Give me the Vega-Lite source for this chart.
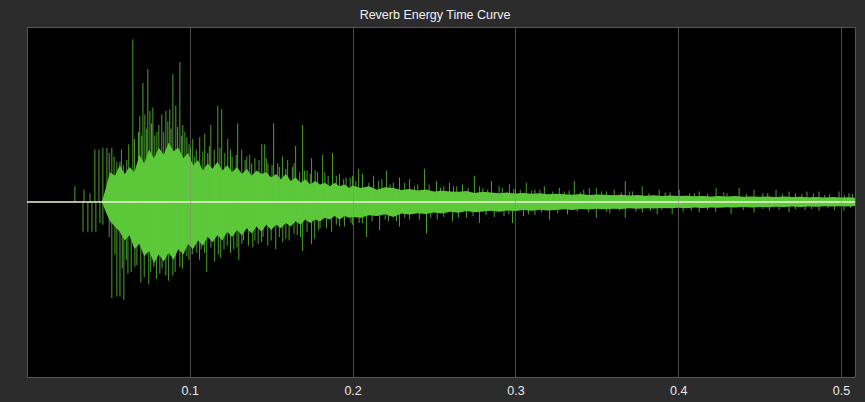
{
  "$schema": "https://vega.github.io/schema/vega-lite/v6.json",
  "autosize": {"type": "none"},
  "width": 828,
  "height": 350,
  "padding": {"left": 27, "top": 27, "right": 10, "bottom": 25},
  "background": "#2c2c2c",
  "title": {"text": "Reverb Energy Time Curve", "color": "#f0f0f0", "fontSize": 12.5, "fontWeight": "normal", "font": "Liberation Sans Narrow, Liberation Sans, sans-serif", "anchor": "middle", "offset": 6, "dx": -6},
  "config": {
    "view": {"fill": "#000000", "stroke": "#555555", "strokeWidth": 1}
  },
  "datasets": {
    "body": [
      {"t": 0.046, "hi": 0.0, "lo": 0.0}, {"t": 0.049, "hi": 0.10, "lo": -0.07}, {"t": 0.051, "hi": 0.17, "lo": -0.11}, {"t": 0.054, "hi": 0.15, "lo": -0.14},
      {"t": 0.057, "hi": 0.21, "lo": -0.17}, {"t": 0.060, "hi": 0.16, "lo": -0.22}, {"t": 0.063, "hi": 0.20, "lo": -0.19},
      {"t": 0.066, "hi": 0.17, "lo": -0.27}, {"t": 0.069, "hi": 0.27, "lo": -0.24}, {"t": 0.072, "hi": 0.22, "lo": -0.31},
      {"t": 0.075, "hi": 0.30, "lo": -0.28}, {"t": 0.078, "hi": 0.25, "lo": -0.35}, {"t": 0.081, "hi": 0.31, "lo": -0.30},
      {"t": 0.084, "hi": 0.27, "lo": -0.34}, {"t": 0.087, "hi": 0.34, "lo": -0.29}, {"t": 0.090, "hi": 0.29, "lo": -0.33},
      {"t": 0.093, "hi": 0.31, "lo": -0.27}, {"t": 0.096, "hi": 0.25, "lo": -0.30}, {"t": 0.099, "hi": 0.28, "lo": -0.24},
      {"t": 0.102, "hi": 0.21, "lo": -0.27}, {"t": 0.105, "hi": 0.24, "lo": -0.22}, {"t": 0.108, "hi": 0.18, "lo": -0.25},
      {"t": 0.111, "hi": 0.22, "lo": -0.20}, {"t": 0.114, "hi": 0.19, "lo": -0.23}, {"t": 0.117, "hi": 0.23, "lo": -0.19},
      {"t": 0.120, "hi": 0.18, "lo": -0.22}, {"t": 0.123, "hi": 0.21, "lo": -0.17}, {"t": 0.126, "hi": 0.17, "lo": -0.20},
      {"t": 0.129, "hi": 0.20, "lo": -0.16}, {"t": 0.132, "hi": 0.16, "lo": -0.19}, {"t": 0.135, "hi": 0.19, "lo": -0.15},
      {"t": 0.138, "hi": 0.15, "lo": -0.18}, {"t": 0.141, "hi": 0.18, "lo": -0.14}, {"t": 0.144, "hi": 0.16, "lo": -0.17},
      {"t": 0.147, "hi": 0.17, "lo": -0.13}, {"t": 0.150, "hi": 0.14, "lo": -0.16}, {"t": 0.153, "hi": 0.16, "lo": -0.13},
      {"t": 0.156, "hi": 0.13, "lo": -0.15}, {"t": 0.159, "hi": 0.16, "lo": -0.12}, {"t": 0.162, "hi": 0.12, "lo": -0.14},
      {"t": 0.165, "hi": 0.14, "lo": -0.11}, {"t": 0.168, "hi": 0.11, "lo": -0.13}, {"t": 0.171, "hi": 0.13, "lo": -0.10},
      {"t": 0.174, "hi": 0.10, "lo": -0.12}, {"t": 0.177, "hi": 0.12, "lo": -0.10}, {"t": 0.180, "hi": 0.10, "lo": -0.11},
      {"t": 0.183, "hi": 0.11, "lo": -0.09}, {"t": 0.186, "hi": 0.09, "lo": -0.10}, {"t": 0.189, "hi": 0.11, "lo": -0.08},
      {"t": 0.192, "hi": 0.09, "lo": -0.10}, {"t": 0.195, "hi": 0.10, "lo": -0.08}, {"t": 0.198, "hi": 0.08, "lo": -0.09},
      {"t": 0.200, "hi": 0.095, "lo": -0.085}, {"t": 0.205, "hi": 0.080, "lo": -0.090}, {"t": 0.210, "hi": 0.090, "lo": -0.075},
      {"t": 0.215, "hi": 0.070, "lo": -0.080}, {"t": 0.220, "hi": 0.085, "lo": -0.070}, {"t": 0.225, "hi": 0.080, "lo": -0.085},
      {"t": 0.230, "hi": 0.068, "lo": -0.066}, {"t": 0.235, "hi": 0.075, "lo": -0.072}, {"t": 0.240, "hi": 0.066, "lo": -0.064},
      {"t": 0.245, "hi": 0.072, "lo": -0.068}, {"t": 0.250, "hi": 0.060, "lo": -0.060}, {"t": 0.255, "hi": 0.064, "lo": -0.066},
      {"t": 0.260, "hi": 0.060, "lo": -0.055}, {"t": 0.265, "hi": 0.058, "lo": -0.061}, {"t": 0.270, "hi": 0.063, "lo": -0.052},
      {"t": 0.275, "hi": 0.052, "lo": -0.058}, {"t": 0.280, "hi": 0.058, "lo": -0.054}, {"t": 0.285, "hi": 0.055, "lo": -0.050},
      {"t": 0.290, "hi": 0.050, "lo": -0.055}, {"t": 0.295, "hi": 0.054, "lo": -0.048}, {"t": 0.300, "hi": 0.048, "lo": -0.052},
      {"t": 0.305, "hi": 0.052, "lo": -0.046}, {"t": 0.310, "hi": 0.047, "lo": -0.050}, {"t": 0.315, "hi": 0.050, "lo": -0.044},
      {"t": 0.320, "hi": 0.044, "lo": -0.048}, {"t": 0.325, "hi": 0.047, "lo": -0.045}, {"t": 0.330, "hi": 0.045, "lo": -0.042},
      {"t": 0.335, "hi": 0.042, "lo": -0.046}, {"t": 0.340, "hi": 0.046, "lo": -0.040}, {"t": 0.345, "hi": 0.040, "lo": -0.043},
      {"t": 0.350, "hi": 0.043, "lo": -0.039}, {"t": 0.355, "hi": 0.041, "lo": -0.042}, {"t": 0.360, "hi": 0.038, "lo": -0.038},
      {"t": 0.365, "hi": 0.042, "lo": -0.040}, {"t": 0.370, "hi": 0.037, "lo": -0.036}, {"t": 0.375, "hi": 0.040, "lo": -0.039},
      {"t": 0.380, "hi": 0.036, "lo": -0.035}, {"t": 0.385, "hi": 0.039, "lo": -0.037}, {"t": 0.390, "hi": 0.035, "lo": -0.034},
      {"t": 0.395, "hi": 0.037, "lo": -0.036}, {"t": 0.400, "hi": 0.034, "lo": -0.033}, {"t": 0.405, "hi": 0.036, "lo": -0.035},
      {"t": 0.410, "hi": 0.033, "lo": -0.032}, {"t": 0.415, "hi": 0.035, "lo": -0.034}, {"t": 0.420, "hi": 0.032, "lo": -0.031},
      {"t": 0.425, "hi": 0.034, "lo": -0.033}, {"t": 0.430, "hi": 0.031, "lo": -0.030}, {"t": 0.435, "hi": 0.034, "lo": -0.032},
      {"t": 0.440, "hi": 0.030, "lo": -0.029}, {"t": 0.445, "hi": 0.032, "lo": -0.031}, {"t": 0.450, "hi": 0.030, "lo": -0.028},
      {"t": 0.455, "hi": 0.031, "lo": -0.030}, {"t": 0.460, "hi": 0.029, "lo": -0.027}, {"t": 0.465, "hi": 0.031, "lo": -0.029},
      {"t": 0.470, "hi": 0.028, "lo": -0.026}, {"t": 0.475, "hi": 0.030, "lo": -0.028}, {"t": 0.480, "hi": 0.027, "lo": -0.025},
      {"t": 0.485, "hi": 0.029, "lo": -0.027}, {"t": 0.490, "hi": 0.026, "lo": -0.024}, {"t": 0.495, "hi": 0.028, "lo": -0.026},
      {"t": 0.500, "hi": 0.026, "lo": -0.024}, {"t": 0.505, "hi": 0.027, "lo": -0.025}, {"t": 0.5086, "hi": 0.025, "lo": -0.023}
    ],
    "spikes": [
      {"t": 0.0294, "v": 0.09}, {"t": 0.0350, "v": 0.07}, {"t": 0.0387, "v": 0.05}, {"t": 0.0417, "v": 0.30},
      {"t": 0.0442, "v": 0.30}, {"t": 0.0466, "v": 0.31}, {"t": 0.0491, "v": 0.31}, {"t": 0.0521, "v": 0.31},
      {"t": 0.0552, "v": 0.23}, {"t": 0.0571, "v": 0.23}, {"t": 0.0592, "v": 0.21}, {"t": 0.0613, "v": 0.24},
      {"t": 0.0650, "v": 0.93}, {"t": 0.0675, "v": 0.20}, {"t": 0.0693, "v": 0.49}, {"t": 0.0712, "v": 0.68},
      {"t": 0.0724, "v": 0.50}, {"t": 0.0742, "v": 0.76}, {"t": 0.0755, "v": 0.52}, {"t": 0.0773, "v": 0.54},
      {"t": 0.0798, "v": 0.40}, {"t": 0.0828, "v": 0.50}, {"t": 0.0853, "v": 0.52}, {"t": 0.0877, "v": 0.53},
      {"t": 0.0896, "v": 0.73}, {"t": 0.0914, "v": 0.55}, {"t": 0.0939, "v": 0.80}, {"t": 0.0957, "v": 0.44},
      {"t": 0.0982, "v": 0.37}, {"t": 0.1018, "v": 0.36}, {"t": 0.1061, "v": 0.37}, {"t": 0.1092, "v": 0.39},
      {"t": 0.1129, "v": 0.44}, {"t": 0.1172, "v": 0.55}, {"t": 0.1196, "v": 0.53}, {"t": 0.1233, "v": 0.36},
      {"t": 0.1294, "v": 0.45}, {"t": 0.1319, "v": 0.30}, {"t": 0.1368, "v": 0.27}, {"t": 0.1442, "v": 0.33},
      {"t": 0.1460, "v": 0.33}, {"t": 0.1515, "v": 0.45}, {"t": 0.1540, "v": 0.22}, {"t": 0.1601, "v": 0.24},
      {"t": 0.1650, "v": 0.32}, {"t": 0.1693, "v": 0.44}, {"t": 0.1748, "v": 0.25}, {"t": 0.1785, "v": 0.17},
      {"t": 0.1816, "v": 0.27}, {"t": 0.1877, "v": 0.28}, {"t": 0.1920, "v": 0.16}, {"t": 0.2037, "v": 0.19},
      {"t": 0.2061, "v": 0.16}, {"t": 0.2129, "v": 0.15}, {"t": 0.2209, "v": 0.18}, {"t": 0.2288, "v": 0.14},
      {"t": 0.2350, "v": 0.13}, {"t": 0.2442, "v": 0.19}, {"t": 0.2515, "v": 0.12}, {"t": 0.2595, "v": 0.11},
      {"t": 0.2675, "v": 0.10}, {"t": 0.2748, "v": 0.15}, {"t": 0.2853, "v": 0.12}, {"t": 0.2963, "v": 0.10},
      {"t": 0.3067, "v": 0.11}, {"t": 0.3178, "v": 0.09}, {"t": 0.3270, "v": 0.08}, {"t": 0.3362, "v": 0.12},
      {"t": 0.3454, "v": 0.08}, {"t": 0.3497, "v": 0.08}, {"t": 0.3607, "v": 0.07}, {"t": 0.3675, "v": 0.12},
      {"t": 0.3779, "v": 0.09}, {"t": 0.3883, "v": 0.07}, {"t": 0.4006, "v": 0.07}, {"t": 0.4129, "v": 0.06},
      {"t": 0.4233, "v": 0.08}, {"t": 0.4374, "v": 0.08}, {"t": 0.4466, "v": 0.07}, {"t": 0.4601, "v": 0.07},
      {"t": 0.4681, "v": 0.06}, {"t": 0.4791, "v": 0.06}, {"t": 0.4865, "v": 0.06}, {"t": 0.4988, "v": 0.06},
      {"t": 0.5049, "v": 0.05},
      {"t": 0.1040, "v": 0.30}, {"t": 0.1110, "v": 0.28}, {"t": 0.1150, "v": 0.30}, {"t": 0.1260, "v": 0.26},
      {"t": 0.1340, "v": 0.24}, {"t": 0.1400, "v": 0.25}, {"t": 0.1480, "v": 0.22}, {"t": 0.1570, "v": 0.26},
      {"t": 0.1630, "v": 0.20}, {"t": 0.1720, "v": 0.18}, {"t": 0.1850, "v": 0.15}, {"t": 0.1960, "v": 0.14},
      {"t": 0.2000, "v": 0.15}, {"t": 0.2160, "v": 0.12}, {"t": 0.2250, "v": 0.11}, {"t": 0.2400, "v": 0.10},
      {"t": 0.2560, "v": 0.09}, {"t": 0.2620, "v": 0.09}, {"t": 0.2800, "v": 0.08}, {"t": 0.2900, "v": 0.09},
      {"t": 0.3000, "v": 0.07}, {"t": 0.3120, "v": 0.07}, {"t": 0.3300, "v": 0.06}, {"t": 0.3420, "v": 0.07},
      {"t": 0.3560, "v": 0.06}, {"t": 0.3720, "v": 0.06}, {"t": 0.3950, "v": 0.055}, {"t": 0.4070, "v": 0.05},
      {"t": 0.4300, "v": 0.05}, {"t": 0.4550, "v": 0.05}, {"t": 0.4720, "v": 0.05}, {"t": 0.4930, "v": 0.045},
      {"t": 0.0505, "v": 0.28}, {"t": 0.0535, "v": 0.26}, {"t": 0.0580, "v": 0.30}, {"t": 0.0625, "v": 0.33},
      {"t": 0.0660, "v": 0.36}, {"t": 0.0685, "v": 0.40}, {"t": 0.0705, "v": 0.38}, {"t": 0.0735, "v": 0.42},
      {"t": 0.0765, "v": 0.45}, {"t": 0.0785, "v": 0.38}, {"t": 0.0810, "v": 0.44}, {"t": 0.0840, "v": 0.40},
      {"t": 0.0865, "v": 0.46}, {"t": 0.0885, "v": 0.42}, {"t": 0.0925, "v": 0.43}, {"t": 0.0950, "v": 0.38},
      {"t": 0.0970, "v": 0.40}, {"t": 0.0995, "v": 0.33},
      {"t": 0.1005, "v": 0.31}, {"t": 0.1030, "v": 0.26}, {"t": 0.1080, "v": 0.29}, {"t": 0.1120, "v": 0.32},
      {"t": 0.1185, "v": 0.31}, {"t": 0.1215, "v": 0.28}, {"t": 0.1250, "v": 0.30}, {"t": 0.1285, "v": 0.27},
      {"t": 0.1350, "v": 0.26}, {"t": 0.1380, "v": 0.22}, {"t": 0.1425, "v": 0.24}, {"t": 0.1470, "v": 0.25},
      {"t": 0.1505, "v": 0.21}, {"t": 0.1550, "v": 0.20}, {"t": 0.1590, "v": 0.19}, {"t": 0.1640, "v": 0.22},
      {"t": 0.1675, "v": 0.17}, {"t": 0.1705, "v": 0.18}, {"t": 0.1740, "v": 0.16}, {"t": 0.1770, "v": 0.18},
      {"t": 0.1830, "v": 0.17}, {"t": 0.1900, "v": 0.15}, {"t": 0.1945, "v": 0.13}, {"t": 0.1985, "v": 0.14},
      {"t": 0.2020, "v": 0.12}, {"t": 0.2100, "v": 0.11}, {"t": 0.2180, "v": 0.13}, {"t": 0.2230, "v": 0.10},
      {"t": 0.2320, "v": 0.11}, {"t": 0.2380, "v": 0.09}, {"t": 0.2470, "v": 0.10}, {"t": 0.2540, "v": 0.08},
      {"t": 0.2640, "v": 0.09}, {"t": 0.2710, "v": 0.08}, {"t": 0.2780, "v": 0.09}, {"t": 0.2830, "v": 0.07},
      {"t": 0.2920, "v": 0.08}, {"t": 0.2990, "v": 0.075},
      {"t": 0.3030, "v": 0.07}, {"t": 0.3100, "v": 0.065}, {"t": 0.3150, "v": 0.07}, {"t": 0.3230, "v": 0.06},
      {"t": 0.3330, "v": 0.065}, {"t": 0.3400, "v": 0.055}, {"t": 0.3530, "v": 0.06}, {"t": 0.3650, "v": 0.055},
      {"t": 0.3700, "v": 0.06}, {"t": 0.3820, "v": 0.05}, {"t": 0.3920, "v": 0.055}, {"t": 0.4100, "v": 0.05},
      {"t": 0.4180, "v": 0.045}, {"t": 0.4280, "v": 0.055}, {"t": 0.4420, "v": 0.045}, {"t": 0.4520, "v": 0.05},
      {"t": 0.4640, "v": 0.045}, {"t": 0.4760, "v": 0.045}, {"t": 0.4830, "v": 0.05}, {"t": 0.4900, "v": 0.04},
      {"t": 0.5020, "v": 0.04}, {"t": 0.5070, "v": 0.045},
      {"t": 0.0344, "v": -0.17}, {"t": 0.0374, "v": -0.17}, {"t": 0.0399, "v": -0.17}, {"t": 0.0423, "v": -0.17},
      {"t": 0.0448, "v": -0.12}, {"t": 0.0466, "v": -0.13}, {"t": 0.0521, "v": -0.55}, {"t": 0.0552, "v": -0.54},
      {"t": 0.0571, "v": -0.54}, {"t": 0.0595, "v": -0.56}, {"t": 0.0620, "v": -0.41}, {"t": 0.0663, "v": -0.37},
      {"t": 0.0699, "v": -0.46}, {"t": 0.0748, "v": -0.47}, {"t": 0.0779, "v": -0.37}, {"t": 0.0816, "v": -0.41},
      {"t": 0.0853, "v": -0.42}, {"t": 0.0896, "v": -0.42}, {"t": 0.0939, "v": -0.37}, {"t": 0.0982, "v": -0.31},
      {"t": 0.1043, "v": -0.29}, {"t": 0.1104, "v": -0.40}, {"t": 0.1153, "v": -0.34}, {"t": 0.1190, "v": -0.32},
      {"t": 0.1301, "v": -0.33}, {"t": 0.1387, "v": -0.26}, {"t": 0.1479, "v": -0.25}, {"t": 0.1528, "v": -0.27},
      {"t": 0.1571, "v": -0.23}, {"t": 0.1693, "v": -0.28}, {"t": 0.1748, "v": -0.24}, {"t": 0.1767, "v": -0.21},
      {"t": 0.1871, "v": -0.17}, {"t": 0.2086, "v": -0.20}, {"t": 0.2166, "v": -0.16}, {"t": 0.2288, "v": -0.14},
      {"t": 0.2454, "v": -0.18}, {"t": 0.2613, "v": -0.11}, {"t": 0.2779, "v": -0.12}, {"t": 0.2982, "v": -0.12},
      {"t": 0.3209, "v": -0.10}, {"t": 0.3497, "v": -0.09}, {"t": 0.3675, "v": -0.09}, {"t": 0.3871, "v": -0.07},
      {"t": 0.3963, "v": -0.07}, {"t": 0.4129, "v": -0.06}, {"t": 0.4325, "v": -0.07}, {"t": 0.4466, "v": -0.06},
      {"t": 0.4681, "v": -0.06}, {"t": 0.4865, "v": -0.05}, {"t": 0.5018, "v": -0.05},
      {"t": 0.1070, "v": -0.27}, {"t": 0.1130, "v": -0.26}, {"t": 0.1230, "v": -0.25}, {"t": 0.1270, "v": -0.27},
      {"t": 0.1330, "v": -0.22}, {"t": 0.1420, "v": -0.24}, {"t": 0.1450, "v": -0.20}, {"t": 0.1610, "v": -0.22},
      {"t": 0.1660, "v": -0.19}, {"t": 0.1800, "v": -0.15}, {"t": 0.1920, "v": -0.14}, {"t": 0.2000, "v": -0.13},
      {"t": 0.2040, "v": -0.12}, {"t": 0.2220, "v": -0.11}, {"t": 0.2350, "v": -0.10}, {"t": 0.2520, "v": -0.10},
      {"t": 0.2700, "v": -0.09}, {"t": 0.2870, "v": -0.085}, {"t": 0.3050, "v": -0.08}, {"t": 0.3120, "v": -0.075},
      {"t": 0.3320, "v": -0.07}, {"t": 0.3580, "v": -0.065}, {"t": 0.3780, "v": -0.06}, {"t": 0.4030, "v": -0.055},
      {"t": 0.4230, "v": -0.055}, {"t": 0.4560, "v": -0.05}, {"t": 0.4780, "v": -0.045}, {"t": 0.4960, "v": -0.045},
      {"t": 0.0505, "v": -0.20}, {"t": 0.0540, "v": -0.30}, {"t": 0.0585, "v": -0.38}, {"t": 0.0610, "v": -0.33},
      {"t": 0.0640, "v": -0.40}, {"t": 0.0675, "v": -0.36}, {"t": 0.0720, "v": -0.43}, {"t": 0.0760, "v": -0.40},
      {"t": 0.0795, "v": -0.44}, {"t": 0.0830, "v": -0.38}, {"t": 0.0870, "v": -0.45}, {"t": 0.0910, "v": -0.40},
      {"t": 0.0955, "v": -0.38}, {"t": 0.0995, "v": -0.33},
      {"t": 0.1015, "v": -0.30}, {"t": 0.1060, "v": -0.33}, {"t": 0.1090, "v": -0.29}, {"t": 0.1175, "v": -0.30},
      {"t": 0.1210, "v": -0.27}, {"t": 0.1250, "v": -0.29}, {"t": 0.1290, "v": -0.26}, {"t": 0.1320, "v": -0.24},
      {"t": 0.1360, "v": -0.25}, {"t": 0.1400, "v": -0.22}, {"t": 0.1440, "v": -0.23}, {"t": 0.1500, "v": -0.22},
      {"t": 0.1550, "v": -0.20}, {"t": 0.1590, "v": -0.21}, {"t": 0.1640, "v": -0.18}, {"t": 0.1680, "v": -0.20},
      {"t": 0.1720, "v": -0.17}, {"t": 0.1790, "v": -0.16}, {"t": 0.1840, "v": -0.15}, {"t": 0.1900, "v": -0.13},
      {"t": 0.1950, "v": -0.14}, {"t": 0.1990, "v": -0.12},
      {"t": 0.2060, "v": -0.12}, {"t": 0.2120, "v": -0.11}, {"t": 0.2200, "v": -0.10}, {"t": 0.2270, "v": -0.11},
      {"t": 0.2320, "v": -0.09}, {"t": 0.2410, "v": -0.10}, {"t": 0.2480, "v": -0.09}, {"t": 0.2560, "v": -0.085},
      {"t": 0.2650, "v": -0.09}, {"t": 0.2740, "v": -0.08}, {"t": 0.2820, "v": -0.075}, {"t": 0.2930, "v": -0.08},
      {"t": 0.2960, "v": -0.07},
      {"t": 0.3080, "v": -0.07}, {"t": 0.3160, "v": -0.06}, {"t": 0.3260, "v": -0.065}, {"t": 0.3380, "v": -0.055},
      {"t": 0.3450, "v": -0.06}, {"t": 0.3560, "v": -0.055}, {"t": 0.3640, "v": -0.05}, {"t": 0.3740, "v": -0.055},
      {"t": 0.3830, "v": -0.05}, {"t": 0.3900, "v": -0.045}, {"t": 0.4080, "v": -0.05}, {"t": 0.4180, "v": -0.045},
      {"t": 0.4400, "v": -0.045}, {"t": 0.4520, "v": -0.04}, {"t": 0.4620, "v": -0.045}, {"t": 0.4720, "v": -0.04},
      {"t": 0.4820, "v": -0.04}, {"t": 0.4920, "v": -0.035}, {"t": 0.5060, "v": -0.035}
    ]
  },
  "layer": [
    {
      "data": {"name": "body"},
      "mark": {"type": "area", "color": "#5cc83a", "interpolate": "linear"},
      "encoding": {
        "x": {"field": "t", "type": "quantitative", "scale": {"domain": [0, 0.5086], "nice": false, "zero": false},
          "axis": {"title": null, "values": [0.1, 0.2, 0.3, 0.4, 0.5], "format": ".1f", "grid": true, "gridColor": "#8a8a8a", "gridOpacity": 0.55, "gridWidth": 1, "ticks": false, "domain": false, "labelPadding": 7, "labelColor": "#e8e8e8", "labelFontSize": 12.5, "labelFont": "Liberation Sans Narrow, Liberation Sans, sans-serif", "zindex": 1}},
        "y": {"field": "hi", "type": "quantitative", "scale": {"domain": [-1, 1], "nice": false}, "axis": null},
        "y2": {"field": "lo"}
      }
    },
    {
      "data": {"name": "spikes"},
      "mark": {"type": "rule", "color": "#5cc83a", "strokeWidth": 1, "opacity": 0.8},
      "encoding": {
        "x": {"field": "t", "type": "quantitative"},
        "y": {"field": "v", "type": "quantitative"},
        "y2": {"datum": 0}
      }
    },
    {
      "data": {"values": [{"z": 0}]},
      "mark": {"type": "rule", "color": "#e8f7d2", "strokeWidth": 1.5},
      "encoding": {
        "y": {"field": "z", "type": "quantitative"}
      }
    }
  ]
}
